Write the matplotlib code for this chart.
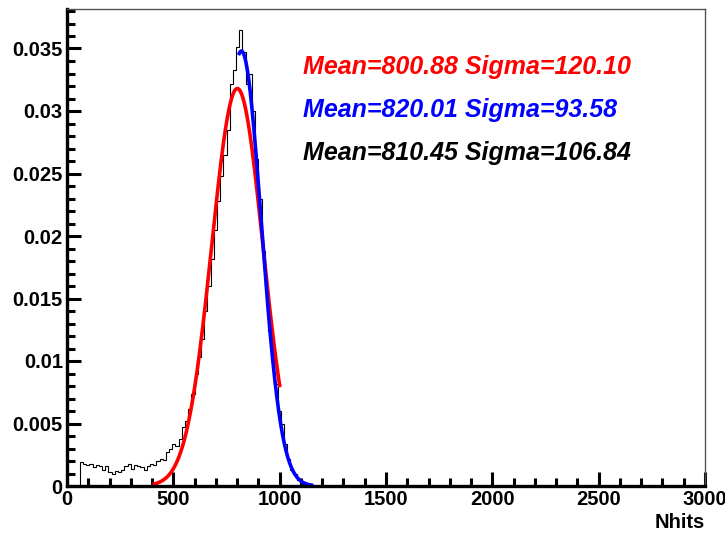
import numpy as np
import matplotlib
matplotlib.use("Agg")
import matplotlib.pyplot as plt
from matplotlib.ticker import MultipleLocator

plt.rcParams['font.family'] = ['Liberation Sans', 'DejaVu Sans']

# normalised Nhits histogram, 15-wide bins starting at 60
bin_start = 60
bin_width = 15
hist_vals = [0.0019, 0.0018, 0.0017, 0.0018, 0.0015, 0.0017, 0.0016, 0.0013,
             0.0016, 0.0011, 0.0010, 0.0012, 0.0011, 0.0013, 0.0016, 0.0018,
             0.0014, 0.0017, 0.0016, 0.0015, 0.0013, 0.0016, 0.0018, 0.0017,
             0.0020, 0.0022, 0.0021, 0.0027, 0.0030, 0.0034, 0.0032, 0.0038,
             0.0047, 0.0052, 0.0062, 0.0074, 0.0090, 0.0103, 0.0118, 0.0140,
             0.0160, 0.0182, 0.0205, 0.0228, 0.0248, 0.0265, 0.0285, 0.0322,
             0.0333, 0.0351, 0.0365, 0.0347, 0.0322, 0.0330, 0.0300, 0.0262,
             0.0230, 0.0188, 0.0160, 0.0124, 0.0104, 0.0082, 0.0060, 0.0050,
             0.0034, 0.0022, 0.0013, 0.0010, 0.0005, 0.0003, 0.0002, 0.0001,
             0.0001]

# gaussian fits: amplitude, mean, sigma, range
red_amp, red_mean, red_sigma = 0.0318, 800.88, 120.10
red_range = (410, 1000)
blue_amp, blue_mean, blue_sigma = 0.0348, 820.01, 93.58
blue_range = (810, 1150)

labels = ["Mean=800.88 Sigma=120.10",
          "Mean=820.01 Sigma=93.58",
          "Mean=810.45 Sigma=106.84"]
label_colors = ["#ff0000", "#0000ff", "black"]
label_y = [0.03352, 0.03008, 0.02664]

edges = bin_start + bin_width * np.arange(len(hist_vals) + 1)

def gaus(x, a, m, s):
    return a * np.exp(-0.5 * ((x - m) / s) ** 2)

fig = plt.figure(figsize=(7.25, 5.34), dpi=100)
ax = fig.add_axes([67/725, 48/534, 638/725, 477/534])

ax.stairs(hist_vals, edges, color="black", lw=0.8)

xr = np.linspace(red_range[0], red_range[1], 300)
ax.plot(xr, gaus(xr, red_amp, red_mean, red_sigma), color="#ff0000", lw=2.6)
xb = np.linspace(blue_range[0], blue_range[1], 300)
ax.plot(xb, gaus(xb, blue_amp, blue_mean, blue_sigma), color="#0000ff", lw=2.6)

for txt, c, y in zip(labels, label_colors, label_y):
    ax.text(1110, y, txt, color=c, fontsize=18, fontweight="bold",
            fontstyle="italic", ha="left", va="center")

ax.set_xlim(0, 3000)
ax.set_ylim(0, 0.03816)
ax.xaxis.set_major_locator(MultipleLocator(500))
ax.xaxis.set_minor_locator(MultipleLocator(100))
ax.yaxis.set_major_locator(MultipleLocator(0.005))
ax.yaxis.set_minor_locator(MultipleLocator(0.001))
ax.yaxis.set_major_formatter(plt.FuncFormatter(lambda v, p: "%g" % round(v, 4)))

ax.tick_params(which="both", direction="in", top=False, right=False,
               labelsize=14.5, width=2.2)
ax.tick_params(which="major", length=10, pad=3)
ax.tick_params(which="minor", length=5.5)
for lab in ax.get_xticklabels() + ax.get_yticklabels():
    lab.set_fontweight("bold")

ax.spines["left"].set_linewidth(2.4)
ax.spines["bottom"].set_linewidth(2.4)
for s in ["top", "right"]:
    ax.spines[s].set_linewidth(1.0)
    ax.spines[s].set_color("#555555")

ax.set_xlabel("Nhits", loc="right", fontsize=14.5, fontweight="bold", labelpad=3)

fig.savefig("out.png", dpi=100)
plt.close(fig)
